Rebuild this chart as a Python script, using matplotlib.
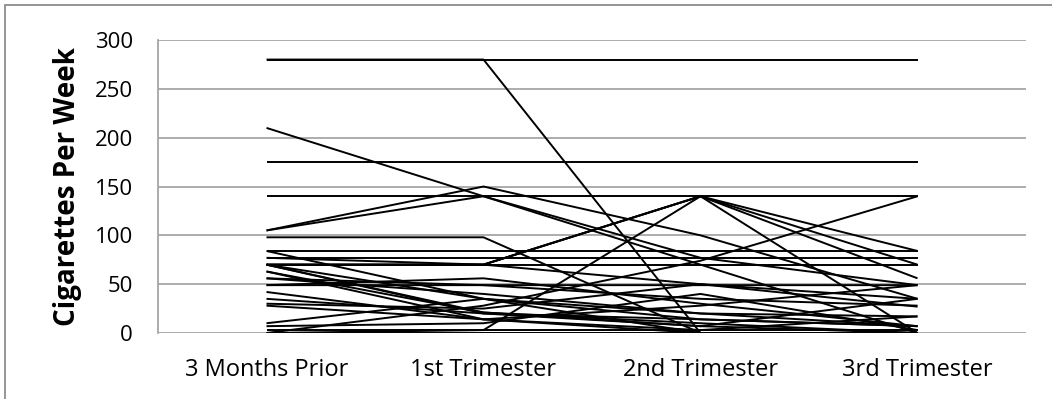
import matplotlib.pyplot as plt
from matplotlib.patches import Rectangle

# periods on the x axis
periods = ["3 Months Prior", "1st Trimester", "2nd Trimester", "3rd Trimester"]

# cigarettes per week for each participant (3 months prior, T1, T2, T3)
p01 = [280, 280, 280, 280]
p02 = [280, 280, 0, 0]
p03 = [210, 140, 70, 0]
p04 = [175, 175, 175, 175]
p05 = [140, 140, 140, 140]
p06 = [105, 150, 100, 35]
p07 = [105, 140, 77, 49]
p08 = [98, 98, 0, 0]
p09 = [84, 84, 84, 84]
p10 = [77, 77, 77, 77]
p11 = [70, 70, 70, 70]
p12 = [70, 70, 140, 56]
p13 = [70, 70, 140, 0]
p14 = [0, 28, 74, 140]
p15 = [70, 20, 14, 7]
p16 = [63, 21, 7, 0]
p17 = [56, 49, 49, 49]
p18 = [49, 49, 35, 28]
p19 = [42, 14, 0, 0]
p20 = [35, 20, 7, 35]
p21 = [28, 14, 3, 17]
p22 = [10, 35, 20, 7]
p23 = [0, 0, 0, 0]
p24 = [3, 3, 3, 3]
p25 = [70, 21, 10, 0]
p26 = [84, 35, 14, 7]
p27 = [70, 70, 140, 70]
p28 = [77, 70, 50, 27]
p29 = [70, 35, 0, 0]
p30 = [63, 14, 28, 49]
p31 = [56, 40, 20, 17]
p32 = [30, 25, 50, 35]
p33 = [49, 56, 30, 7]
p34 = [7, 10, 40, 3]
p35 = [0, 3, 140, 84]

participants = [p01, p02, p03, p04, p05, p06, p07, p08, p09, p10, p11, p12,
                p13, p14, p15, p16, p17, p18, p19, p20, p21, p22, p23, p24,
                p25, p26, p27, p28, p29, p30, p31, p32, p33, p34, p35]

plt.rcParams['font.family'] = ['Open Sans', 'DejaVu Sans']

fig = plt.figure(figsize=(10.52, 3.99), dpi=100)
ax = fig.add_axes([0.1502, 0.1654, 0.8251, 0.7343])

x = list(range(len(periods)))
for vals in participants:
    ax.plot(x, vals, color='black', lw=1.4, solid_capstyle='butt', zorder=3)

ax.set_xlim(-0.5, 3.5)
ax.set_ylim(0, 300)
ax.set_yticks(range(0, 301, 50))
ax.set_xticks(x)
ax.set_xticklabels(periods, fontsize=17)
ax.tick_params(axis='y', labelsize=16, length=0, pad=18)
ax.tick_params(axis='x', length=0, pad=18)
ax.yaxis.grid(True, color='#a6a6a6', lw=1.3, zorder=1)
ax.set_axisbelow(True)

for side in ['top', 'right', 'bottom']:
    ax.spines[side].set_visible(False)
ax.spines['left'].set_color('#a6a6a6')
ax.spines['left'].set_linewidth(1.3)

ax.set_ylabel("Cigarettes Per Week", fontsize=20, fontweight='bold', labelpad=9)

# outer chart border
fig.patches.append(Rectangle((5 / 1052, -0.2), 1.2, 1.2 - 5 / 399,
                             transform=fig.transFigure, fill=False,
                             edgecolor='#8c8c8c', lw=1.3))

fig.savefig('out.png', dpi=100)
